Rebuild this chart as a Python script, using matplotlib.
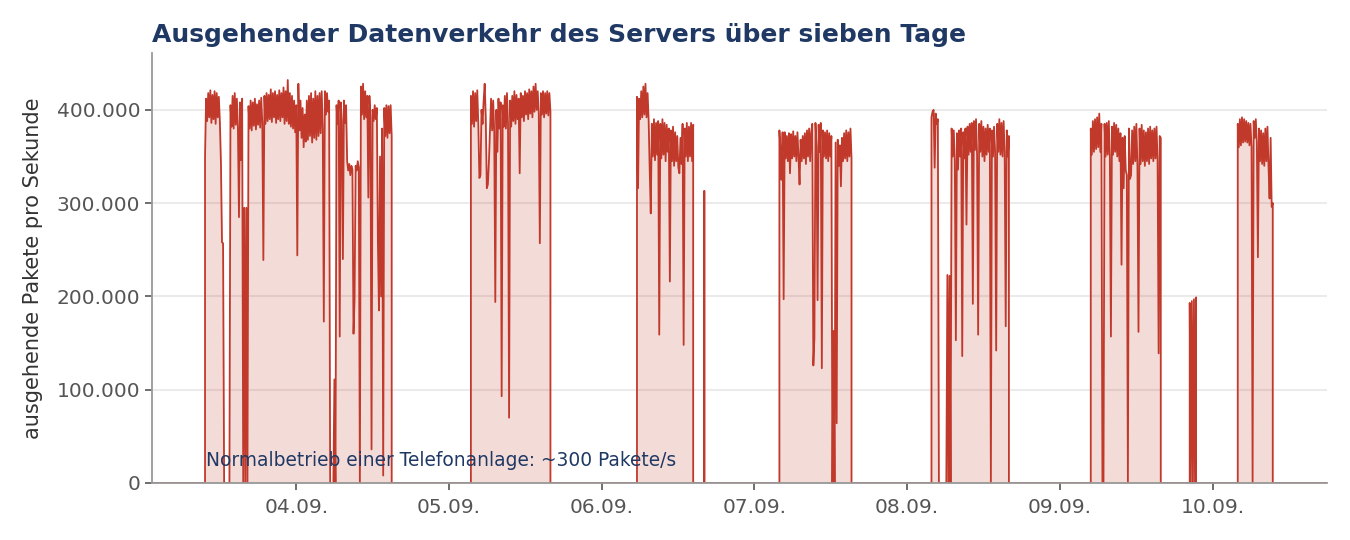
import pandas as pd
import matplotlib
matplotlib.use("Agg")
from matplotlib import pyplot as plt
from matplotlib.ticker import FuncFormatter
import matplotlib.dates as mdates

# Messwerte in Tausend Paketen pro Sekunde, 10-Minuten-Raster je Betriebsphase
seg1_start = "2024-09-03 09:40"
seg1 = [350, 412, 388, 418, 392, 421, 386, 416, 390, 420,
        385, 418, 392, 414, 387, 343, 258, 257,
        0, 0, 0, 0, 0, 0,
        405, 382, 415, 380, 418, 384, 412, 381, 285, 408, 346, 412,
        0, 295, 0, 295, 0,
        404, 380, 410, 378, 408, 383, 412, 379, 406, 384, 410, 381, 413, 386,
        239,
        415, 385, 418, 388, 416, 390, 422, 387, 418, 392, 420, 386, 416, 390,
        421, 388, 418, 392, 424, 385, 420, 388,
        432,
        385, 418, 382, 415, 380, 410, 376, 405,
        244,
        428, 378, 410, 370, 402, 360, 395, 366, 410, 368, 415, 372, 418, 365,
        412, 370, 420, 368, 415, 372, 418, 375, 420, 380,
        173,
        420, 395, 418, 398, 410,
        0, 0, 0, 0, 111, 0,
        405, 385, 410, 157, 408, 388, 240, 410, 386, 405,
        345, 335, 342, 330, 340, 336, 160, 197, 340, 335, 345, 338,
        0,
        425, 395, 428, 390, 420, 392, 415, 306, 415, 392, 36,
        400, 388, 405, 390, 402, 260, 185, 350, 200, 380, 8,
        402, 372, 405, 370, 404, 375, 405, 372]

seg2_start = "2024-09-05 03:27"
seg2 = [415, 385, 420, 382, 418, 388, 421, 384, 327, 330, 400,
        385, 410, 428, 392, 316, 320, 345, 380,
        412, 378, 410, 376, 194, 400, 355, 412, 380, 408, 93,
        405, 382, 415, 380, 418, 385, 70,
        410, 382, 415, 388, 420, 385, 416, 390, 412, 332,
        418, 392, 415, 388, 420, 395, 418, 390, 422, 396, 420, 392, 425, 398,
        428, 400, 420, 395, 257,
        418, 395, 420, 392, 418, 396, 420, 394, 418, 398]

seg3_start = "2024-09-06 05:33"
seg3 = [414, 316, 412, 390, 420, 392, 425, 395, 428, 392, 418, 389,
        336, 289, 385, 350, 390, 346, 386, 352, 388, 159,
        385, 348, 390, 352, 386, 345, 384, 355, 380, 216,
        378, 345, 382, 340, 376, 345, 372, 338, 332, 370, 342, 385, 148,
        380, 350, 386, 345, 382, 350, 386, 345, 384]

spike3_start = "2024-09-06 16:08"
spike3 = [313]

seg4_start = "2024-09-07 03:56"
seg4 = [378, 357, 325, 376, 197,
        376, 348, 372, 345, 375, 332, 374, 348, 377, 350, 372, 345, 376, 350,
        320, 368, 345, 372, 348, 375, 342, 378, 350, 380, 345, 376, 385,
        126, 155, 386, 360, 196, 384, 355, 386, 123,
        378, 350, 376, 348, 378, 345, 375, 350, 372,
        0, 163, 0, 365, 64, 368, 340, 362, 318,
        370, 345, 375, 348, 378, 345, 376, 350, 380, 348]

seg5_start = "2024-09-08 03:50"
seg5 = [392, 398, 400, 338, 396, 385, 390,
        0, 0, 0, 0, 0, 0, 0, 0,
        223, 0, 222, 0,
        380, 350, 378, 345, 153, 375, 336, 378, 350, 380, 136,
        376, 348, 380, 277, 382, 352, 385, 355, 386, 192,
        388, 357, 390, 352, 159,
        385, 355, 388, 350, 382, 345, 380, 352, 384, 355, 380, 0,
        378, 350, 382, 355, 142,
        385, 355, 390, 352, 386, 350, 388, 355, 168,
        378, 350, 372]

seg6_start = "2024-09-09 04:52"
seg6 = [380, 352, 388, 355, 390, 358, 392, 360, 396, 355, 385,
        0, 0,
        385, 350, 386, 352, 388, 350, 157,
        382, 352, 386, 355, 384, 350, 380, 345, 375, 234, 370, 316, 372, 335,
        330, 0, 380, 326, 330,
        378, 342, 382, 345, 385, 340, 162,
        380, 342, 384, 345, 378, 340, 376, 345, 380, 342, 382, 348, 378, 345,
        380, 348, 382, 345, 139, 372, 370]

spike6_start = "2024-09-09 20:25"
spike6 = [193, 0, 195, 0, 197, 0, 199]

seg7_start = "2024-09-10 03:58"
seg7 = [385, 360, 390, 362, 392, 365, 390, 366, 388, 365, 386, 362, 385, 360,
        0, 388, 370, 390, 365, 242,
        380, 345, 378, 342, 375, 340, 380, 345, 382, 340,
        305, 370, 296, 300]

range_start = "2024-09-03 01:20"
range_end = "2024-09-10 18:00"

segments = [(seg1_start, seg1), (seg2_start, seg2), (seg3_start, seg3),
            (spike3_start, spike3), (seg4_start, seg4), (seg5_start, seg5),
            (seg6_start, seg6), (spike6_start, spike6), (seg7_start, seg7)]

times = [pd.Timestamp(range_start)]
values = [0]
for start, vals in segments:
    idx = pd.date_range(start, periods=len(vals), freq="10min")
    times += [idx[0]] + list(idx) + [idx[-1]]
    values += [0] + vals + [0]
times.append(pd.Timestamp(range_end))
values.append(0)

s = pd.Series([v * 1000 for v in values], index=pd.DatetimeIndex(times))

red = "#c0392b"
navy = "#1f3864"

fig = plt.figure(figsize=(13.5, 5.4), dpi=100)
ax = fig.add_axes([0.1126, 0.1056, 0.8704, 0.7963])

ax.fill_between(s.index, s.values, 0, color=red, alpha=0.18, lw=0, zorder=2)
ax.plot(s.index, s.values, color=red, lw=1.3, zorder=3)

ax.set_xlim(pd.Timestamp(range_start), pd.Timestamp(range_end))
ax.set_ylim(0, 461000)
ax.set_yticks([0, 100000, 200000, 300000, 400000])
ax.yaxis.set_major_formatter(FuncFormatter(lambda v, p: f"{int(v):,}".replace(",", ".")))
ax.xaxis.set_major_locator(mdates.DayLocator())
ax.xaxis.set_major_formatter(mdates.DateFormatter("%d.%m."))

ax.grid(axis="y", color="#ebebeb", lw=1.5, zorder=0)
ax.set_axisbelow(True)
for side in ["top", "right"]:
    ax.spines[side].set_visible(False)
for side in ["left", "bottom"]:
    ax.spines[side].set_color("#999999")
    ax.spines[side].set_linewidth(1.3)
    ax.spines[side].set_zorder(4)
ax.tick_params(colors="#555555", labelsize=14.5, length=5, width=1.2)
ax.tick_params(axis="x", pad=6)

ax.set_ylabel("ausgehende Pakete pro Sekunde", fontsize=15, color="#333333", labelpad=10)
ax.set_title("Ausgehender Datenverkehr des Servers über sieben Tage", loc="left",
             fontsize=18, fontweight="bold", color=navy, pad=8)

ax.text(pd.Timestamp("2024-09-03 09:50"), 24000,
        "Normalbetrieb einer Telefonanlage: ~300 Pakete/s",
        fontsize=13.4, color=navy, va="center", ha="left", zorder=5)

fig.savefig("out.png", dpi=100)
